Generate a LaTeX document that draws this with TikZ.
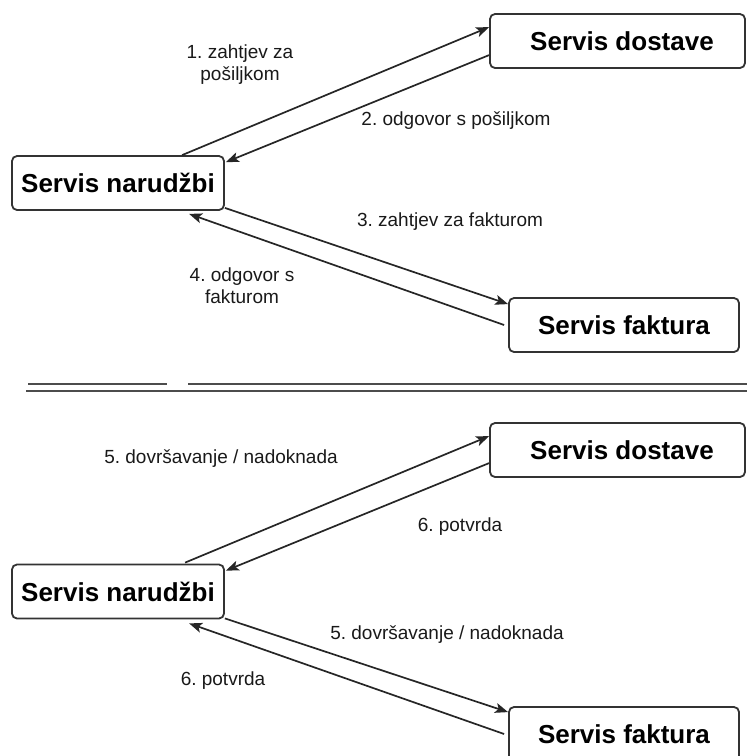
\documentclass[tikz,border=0pt]{standalone}
\usepackage{fontspec}
\setmainfont{Liberation Sans}
\usetikzlibrary{arrows.meta}
\begin{document}
\frenchspacing
\begin{tikzpicture}[x=1pt,y=-1pt,
  svc/.style={draw=black!80,line width=1.8pt,rounded corners=5pt,fill=white,
    minimum height=54pt,inner sep=0pt,font=\fontsize{26}{30}\selectfont\bfseries},
  arr/.style={draw=black!85,line width=1.7pt,-{Stealth[length=13pt,width=10pt,inset=3pt]}},
  lbl/.style={font=\fontsize{19}{22}\selectfont,align=center,inner sep=0pt,text=black!90},
  sep/.style={draw=black!70,line width=2.2pt}]
\useasboundingbox (0,0) rectangle (747,756);
\clip (0,0) rectangle (747,756);
% ---- top part ----
\node[svc,minimum width=255pt] (dos1) at (617.5,41) {\hspace*{9pt}Servis dostave};
\node[svc,minimum width=212pt] (nar1) at (118,183) {Servis narudžbi};
\node[svc,minimum width=230pt] (fak1) at (624,325) {Servis faktura};
\draw[arr] ([shift={(171,0)}]nar1.north west) -- ([shift={(0,14)}]dos1.north west);
\draw[arr] ([shift={(0,42)}]dos1.north west) -- ([shift={(1,7)}]nar1.north east);
\draw[arr] ([shift={(0,-3)}]nar1.south east) -- ([shift={(0,7)}]fak1.north west);
\draw[arr] ([shift={(-4,0)}]fak1.west) -- ([shift={(178,3)}]nar1.south west);
\node[lbl] (l1) at (240,65) {1. zahtjev za\\pošiljkom};
\node[lbl] (l2) at (456,121) {2. odgovor s pošiljkom};
\node[lbl] (l3) at (450,222) {3. zahtjev za fakturom};
\node[lbl] (l4) at (242,286) {4. odgovor s\\fakturom};
% ---- separator ----
\coordinate (s1a) at (28,384); \coordinate (s1b) at (167,384);
\coordinate (s1c) at (188,384); \coordinate (s1d) at (747,384);
\coordinate (s2a) at (26,391); \coordinate (s2b) at (747,391);
\draw[sep] (s1a) -- (s1b);
\draw[sep] (s1c) -- (s1d);
\draw[sep] (s2a) -- (s2b);
% ---- bottom part ----
\node[svc,minimum width=255pt] (dos2) at (617.5,450) {\hspace*{9pt}Servis dostave};
\node[svc,minimum width=212pt] (nar2) at (118,591.5) {Servis narudžbi};
\node[svc,minimum width=230pt] (fak2) at (624,734) {Servis faktura};
\draw[arr] ([shift={(174,-1)}]nar2.north west) -- ([shift={(0,14)}]dos2.north west);
\draw[arr] ([shift={(0,41)}]dos2.north west) -- ([shift={(1,7)}]nar2.north east);
\draw[arr] ([shift={(0,-1)}]nar2.south east) -- ([shift={(0,6)}]fak2.north west);
\draw[arr] ([shift={(-4,0)}]fak2.west) -- ([shift={(178,4)}]nar2.south west);
\node[lbl] (l5) at (221,459) {5. dovršavanje / nadoknada};
\node[lbl] (l6) at (460,527) {6. potvrda};
\node[lbl] (l7) at (447,635) {5. dovršavanje / nadoknada};
\node[lbl] (l8) at (223,681) {6. potvrda};
\end{tikzpicture}
\end{document}
